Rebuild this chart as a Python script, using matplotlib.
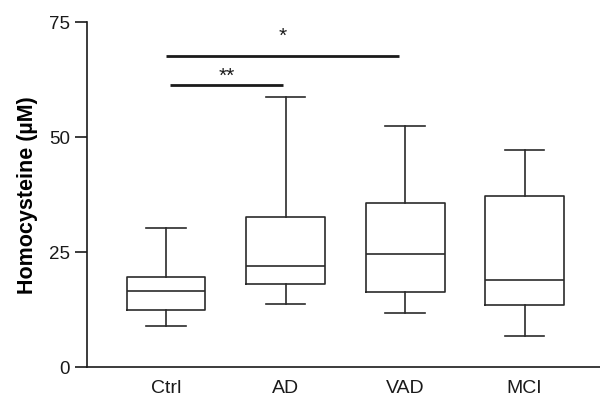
import matplotlib
matplotlib.use("Agg")
import matplotlib.pyplot as plt

plt.rcParams['font.family'] = ['Liberation Sans', 'DejaVu Sans']

groups = ["Ctrl", "AD", "VAD", "MCI"]
whislo = [9.0, 13.8, 11.7, 6.8]
q1 = [12.5, 18.2, 16.4, 13.5]
med = [16.5, 22.0, 24.7, 19.0]
q3 = [19.7, 32.6, 35.8, 37.3]
whishi = [30.3, 58.8, 52.5, 47.2]

# significance bars: (x start, x end, height, label)
sig_x0 = [1.0, 1.03]
sig_x1 = [2.95, 1.98]
sig_y = [67.7, 61.4]
sig_txt = ["*", "**"]
sig_txt_y = [71.9, 63.3]

stats = []
for i in range(len(groups)):
    stats.append({"label": groups[i], "whislo": whislo[i], "q1": q1[i],
                  "med": med[i], "q3": q3[i], "whishi": whishi[i], "fliers": []})

fig = plt.figure(figsize=(6, 4.01), dpi=100)
ax = fig.add_axes([0.1445, 0.084, 0.8555, 0.861])

col = "#2b2b2b"
lw = 1.2
ax.bxp(stats, positions=[1, 2, 3, 4], widths=0.66, showfliers=False,
       boxprops=dict(color=col, linewidth=lw),
       medianprops=dict(color=col, linewidth=lw),
       whiskerprops=dict(color=col, linewidth=lw),
       capprops=dict(color=col, linewidth=lw), capwidths=0.33)

for i in range(len(sig_y)):
    ax.plot([sig_x0[i], sig_x1[i]], [sig_y[i], sig_y[i]], color="#1a1a1a", linewidth=2.0,
            solid_capstyle="butt")
    ax.text((sig_x0[i] + sig_x1[i]) / 2, sig_txt_y[i], sig_txt[i], ha="center", va="center",
            fontsize=15, color="#1a1a1a")

ax.set_xlim(0.337, 4.63)
ax.set_ylim(0, 75)
ax.set_yticks([0, 25, 50, 75])
ax.set_xticks([1, 2, 3, 4])
ax.set_xticklabels(groups)
ax.tick_params(axis="x", length=0, labelsize=14, pad=9, colors="#1a1a1a")
ax.tick_params(axis="y", length=9, width=1.2, labelsize=13.5, pad=3, colors="#1a1a1a")
ax.spines["top"].set_visible(False)
ax.spines["right"].set_visible(False)
ax.spines["left"].set_linewidth(1.2)
ax.spines["bottom"].set_linewidth(1.2)
ax.spines["left"].set_color("#1a1a1a")
ax.spines["bottom"].set_color("#1a1a1a")
ax.set_ylabel("Homocysteine (\u00b5M)", fontsize=15.5, fontweight="bold", labelpad=8)

fig.savefig("out.png", dpi=100)
